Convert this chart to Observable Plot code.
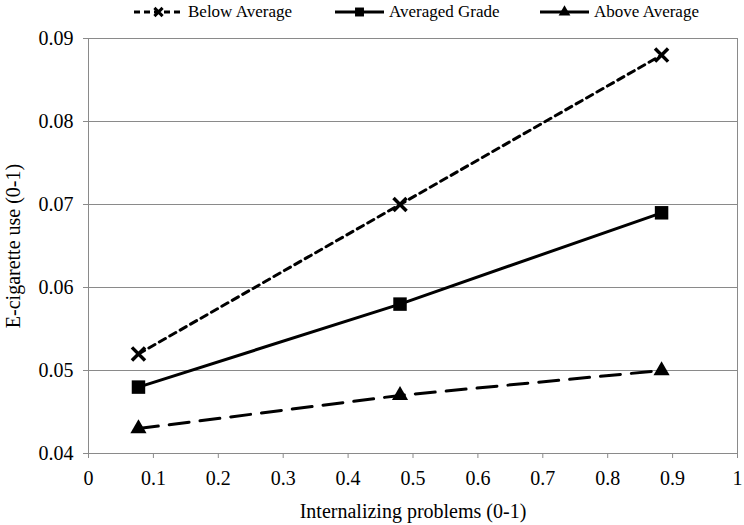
<!DOCTYPE html>
<html>
<head>
<meta charset="utf-8">
<script src="https://cdn.jsdelivr.net/npm/d3@7"></script>
<script src="https://cdn.jsdelivr.net/npm/@observablehq/plot@0.6"></script>
<style>
  html, body { margin: 0; padding: 0; background: #fff; }
  #wrap { position: relative; width: 744px; height: 525px; font-family: "Liberation Serif", "Times New Roman", serif; }
  #legend { position: relative; width: 744px; height: 24px; }
  .item { position: absolute; top: 0; height: 24px; display: flex; align-items: center; font-size: 17px; color: #000; white-space: nowrap; }
  .item svg { display: block; margin-right: 5px; }
  #chart svg { display: block; }
  #chart svg text { font-family: "Liberation Serif", "Times New Roman", serif; }
</style>
</head>
<body>
<div id="wrap">
  <div id="legend"></div>
  <div id="chart"></div>
</div>
<script>
// ---- data ----
const xValues = [0.077, 0.48, 0.883];
const belowAverage = [0.052, 0.070, 0.088];
const averagedGrade = [0.048, 0.058, 0.069];
const aboveAverage = [0.043, 0.047, 0.050];
const seriesNames = ["Below Average", "Averaged Grade", "Above Average"];
const xTicks = [0, 0.1, 0.2, 0.3, 0.4, 0.5, 0.6, 0.7, 0.8, 0.9, 1];
const yTicks = [0.04, 0.05, 0.06, 0.07, 0.08, 0.09];
const xTitle = "Internalizing problems (0-1)";
const yTitle = "E-cigarette use (0-1)";

// ---- styles ----
const seriesStyle = {
  "Below Average": {dash: "7,5", symbol: "times", r: 6, stroke: true},
  "Averaged Grade": {dash: null, symbol: "square", r: 7.6, stroke: false},
  "Above Average": {dash: "20,11", symbol: "triangle", r: 6, stroke: false}
};
const seriesValues = [belowAverage, averagedGrade, aboveAverage];
const rows = [];
seriesNames.forEach((name, i) => {
  xValues.forEach((x, j) => rows.push({series: name, x, y: seriesValues[i][j]}));
});

const grid = "#8a8a8a";
const font = '"Liberation Serif", "Times New Roman", serif';

const marks = [
  Plot.gridY(yTicks, {stroke: grid, strokeOpacity: 1, strokeWidth: 1}),
  Plot.ruleX([1], {stroke: grid, strokeWidth: 1}),
  Plot.ruleX([0], {stroke: grid, strokeWidth: 1}),
  Plot.axisX({ticks: xTicks, tickSize: 5, tickPadding: 12, stroke: grid, fill: "#000", fontSize: 20,
              tickFormat: d => String(d), label: null}),
  Plot.axisY({ticks: yTicks, tickSize: 5, tickPadding: 10, stroke: grid, fill: "#000", fontSize: 20,
              tickFormat: d => String(d), label: null}),
  Plot.text([xTitle], {frameAnchor: "bottom", dy: 58, fontSize: 20, fill: "#000", textAnchor: "middle", lineAnchor: "middle", text: d => d}),
  Plot.text([yTitle], {frameAnchor: "left", dx: -75, rotate: -90, fontSize: 20, fill: "#000", textAnchor: "middle", lineAnchor: "middle", text: d => d})
];

seriesNames.forEach(name => {
  const st = seriesStyle[name];
  const data = rows.filter(d => d.series === name);
  marks.push(Plot.line(data, {x: "x", y: "y", stroke: "#000", strokeWidth: 3,
    strokeDasharray: st.dash || undefined}));
  if (st.stroke) {
    marks.push(Plot.dot(data, {x: "x", y: "y", symbol: st.symbol, r: st.r, stroke: "#000", strokeWidth: 3.5, fill: "none"}));
  } else {
    marks.push(Plot.dot(data, {x: "x", y: "y", symbol: st.symbol, r: st.r, fill: "#000", stroke: "none"}));
  }
});

const plot = Plot.plot({
  width: 744,
  height: 501,
  marginLeft: 88,
  marginRight: 7,
  marginTop: 14,
  marginBottom: 72,
  style: {fontFamily: font, background: "#fff", color: "#000"},
  x: {domain: [0, 1]},
  y: {domain: [0.04, 0.09]},
  marks
});
document.getElementById("chart").appendChild(plot);

// ---- legend (HTML above the SVG) ----
const legendLeft = {"Below Average": 134, "Averaged Grade": 335, "Above Average": 540};
const legend = d3.select("#legend");
seriesNames.forEach(name => {
  const st = seriesStyle[name];
  const item = legend.append("div").attr("class", "item").style("left", legendLeft[name] + "px");
  const svg = item.append("svg").attr("width", 49).attr("height", 24);
  svg.append("line").attr("x1", 0).attr("x2", 49).attr("y1", 12).attr("y2", 12)
    .attr("stroke", "#000").attr("stroke-width", 3)
    .attr("stroke-dasharray", name === "Below Average" ? "6,4" : null);
  const sym = st.symbol === "times" ? d3.symbolTimes : st.symbol === "square" ? d3.symbolSquare : d3.symbolTriangle;
  const size = st.symbol === "times" ? 45 : st.symbol === "square" ? 80 : 60;
  const p = svg.append("path").attr("d", d3.symbol(sym, size)()).attr("transform", "translate(24.5,12)");
  if (st.stroke) p.attr("fill", "none").attr("stroke", "#000").attr("stroke-width", 3);
  else p.attr("fill", "#000");
  item.append("span").text(name);
});
</script>
</body>
</html>
